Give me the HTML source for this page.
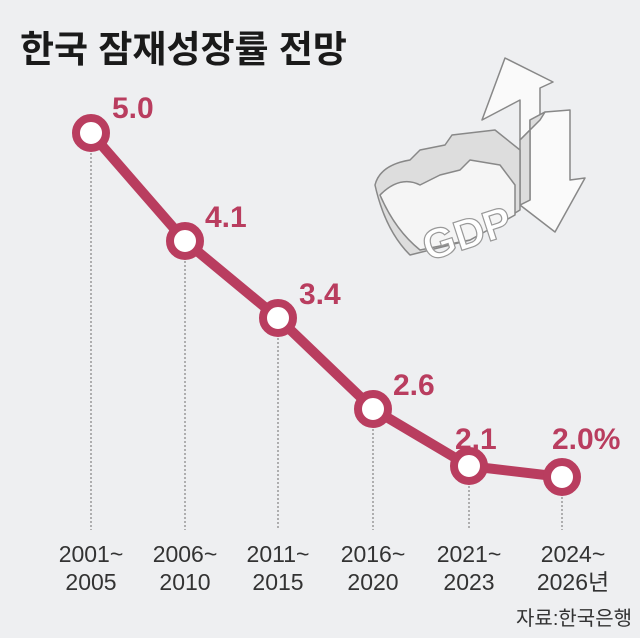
<!DOCTYPE html>
<html><head><meta charset="utf-8"><style>
html,body{margin:0;padding:0;background:#eeeff1;}
svg{display:block;}
text{font-family:"Liberation Sans","Noto Sans CJK KR",sans-serif;}
</style></head><body>
<svg width="640" height="638" viewBox="0 0 640 638">
<rect width="640" height="638" fill="#eeeff1"/>
<text x="20" y="62" font-size="37" font-weight="bold" fill="#1a1a1a" font-family="'Noto Sans CJK KR',sans-serif">한국 잠재성장률 전망</text>
<!-- GDP graphic -->
<g stroke="#888" stroke-width="1.5" stroke-linejoin="round">
<polygon points="505,58 553,82 540,88 540,120 520,140 520,100 482,120" fill="#fafafa"/>
<polygon points="530,120 545,112 570,110 570,180 585,178 555,232 520,205 530,200" fill="#fafafa"/>
<polygon points="520,140 540,120 545,112 530,120 530,200 520,205" fill="#ddd"/>
<path d="M375,185 Q380,165 410,160 L420,150 L445,145 L452,135 L495,130 L520,150 L520,210 L470,240 L410,255 Q385,230 375,185 Z" fill="#ddd"/>
<path d="M380,195 Q400,175 420,185 L440,175 L460,170 L470,160 L500,165 L515,185 L515,215 L470,240 L420,250 Q395,230 380,195Z" fill="#f5f5f5"/>
</g>
<text x="420" y="250" font-size="42" font-weight="bold" fill="#fff" stroke="#999" stroke-width="1.2" transform="rotate(-18 460 230)">GDP</text>
<!-- dotted verticals -->
<g stroke="#999" stroke-width="1.5" stroke-dasharray="2,2">
<line x1="91" y1="153" x2="91" y2="530"/>
<line x1="185" y1="261" x2="185" y2="530"/>
<line x1="278" y1="338" x2="278" y2="530"/>
<line x1="373" y1="429" x2="373" y2="530"/>
<line x1="469" y1="486" x2="469" y2="530"/>
<line x1="562" y1="497" x2="562" y2="530"/>
</g>
<polyline points="91,133 185,241 278,318 373,409 469,466 562,477" fill="none" stroke="#b93d5f" stroke-width="10" stroke-linejoin="round"/>
<g fill="#fff" stroke="#b93d5f" stroke-width="8">
<circle cx="91" cy="133" r="15"/><circle cx="185" cy="241" r="15"/><circle cx="278" cy="318" r="15"/>
<circle cx="373" cy="409" r="15"/><circle cx="469" cy="466" r="15"/><circle cx="562" cy="477" r="15"/>
</g>
<g font-size="30" font-weight="bold" fill="#b93d5f">
<text x="112" y="118">5.0</text>
<text x="205" y="227">4.1</text>
<text x="299" y="304">3.4</text>
<text x="393" y="395">2.6</text>
<text x="455" y="449">2.1</text>
<text x="552" y="449">2.0%</text>
</g>
<g font-size="23" fill="#333" text-anchor="middle">
<text x="91" y="562">2001~</text><text x="91" y="590">2005</text>
<text x="185" y="562">2006~</text><text x="185" y="590">2010</text>
<text x="278" y="562">2011~</text><text x="278" y="590">2015</text>
<text x="373" y="562">2016~</text><text x="373" y="590">2020</text>
<text x="469" y="562">2021~</text><text x="469" y="590">2023</text>
<text x="573" y="562">2024~</text><text x="573" y="590">2026년</text>
</g>
<text x="632" y="625" font-size="20" fill="#333" text-anchor="end" font-family="'Noto Sans CJK KR',sans-serif">자료:한국은행</text>
</svg>
</body></html>
